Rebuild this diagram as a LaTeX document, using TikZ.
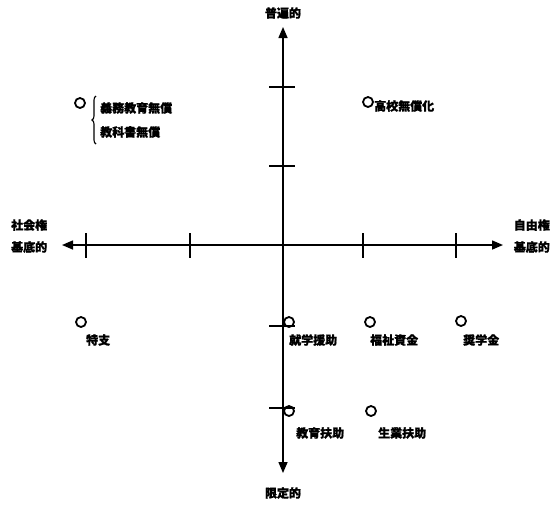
\documentclass[tikz,border=0pt]{standalone}
\usepackage{fontspec}
\newfontfamily\cjk[FakeBold=1.2]{Noto Sans CJK JP}
\usetikzlibrary{arrows.meta,decorations.pathreplacing}
\begin{document}
\begin{tikzpicture}[x=1pt,y=-1pt,
  axis/.style={line width=1.5pt,-{Triangle[length=11pt,width=9pt]}},
  tick/.style={line width=1.2pt},
  pt/.style={circle,draw,line width=1.8pt,minimum size=10pt,inner sep=0pt},
  lbl/.style={font=\cjk\bfseries\fontsize{12}{14}\selectfont,inner sep=0pt},
  lblL/.style={lbl,anchor=west}]
\useasboundingbox (0,0) rectangle (551,507);
\coordinate (O) at (283,245);
\coordinate (top) at (283,27);
\coordinate (bot) at (283,473);
\coordinate (left) at (62,245);
\coordinate (right) at (503,245);
\draw[axis] (O) -- (top);
\draw[axis] (O) -- (bot);
\draw[axis] (O) -- (left);
\draw[axis] (O) -- (right);
% ticks vertical axis
\foreach \y in {87,166,326,408} \draw[tick] (269,\y) -- (295,\y);
% ticks horizontal axis
\foreach \x in {86,190,363,456} \draw[tick] (\x,233) -- (\x,258);
% axis labels
\node[lbl] (ltop) at (283,13) {普遍的};
\node[lbl] (lbot) at (283,493) {限定的};
\node[lbl,anchor=west] (lleft1) at (11,225) {社会権};
\node[lbl,anchor=west] (lleft2) at (11,247) {基底的};
\node[lbl,anchor=east] (lright1) at (550,225) {自由権};
\node[lbl,anchor=east] (lright2) at (550,247) {基底的};
% points
\node[pt] (p1) at (80,103) {};
\draw[line width=1.1pt,decorate,decoration={brace,amplitude=4pt}] (96,144) -- (96,96);
\node[lblL] (t1a) at (100,108) {義務教育無償};
\node[lblL] (t1b) at (100,132) {教科書無償};
\node[pt] (p2) at (368,102) {};
\node[lblL] (t2) at (374,106) {高校無償化};
\node[pt] (p3) at (81,322) {};
\node[lblL] (t3) at (86,340) {特支};
\node[pt] (p4) at (289,322) {};
\node[lblL] (t4) at (289,340) {就学援助};
\node[pt] (p5) at (370,322) {};
\node[lblL] (t5) at (370,340) {福祉資金};
\node[pt] (p6) at (461,321) {};
\node[lblL] (t6) at (463,340) {奨学金};
\node[pt] (p7) at (289,411) {};
\node[lblL] (t7) at (296,433) {教育扶助};
\node[pt] (p8) at (371,411) {};
\node[lblL] (t8) at (378,433) {生業扶助};
\end{tikzpicture}
\end{document}
